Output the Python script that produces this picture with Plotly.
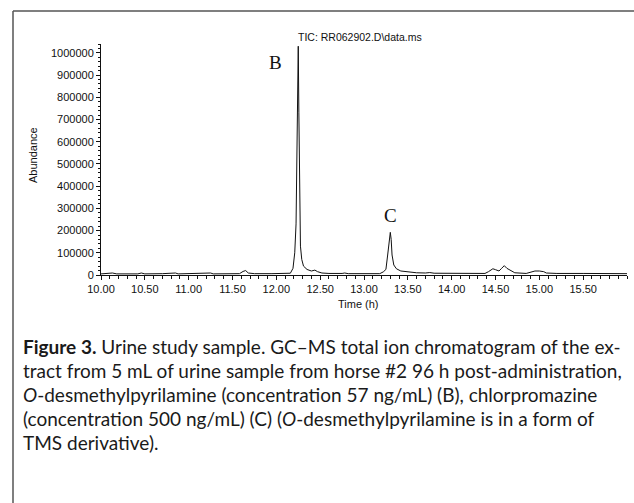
import plotly.graph_objects as go

# ---- data ----
time_h = [10.00, 10.08, 10.13, 10.18, 10.30, 10.42, 10.46, 10.50, 10.70, 10.82, 10.85, 10.88,
          11.00, 11.10, 11.22, 11.25, 11.28, 11.45, 11.58, 11.62, 11.65, 11.68, 11.75, 11.95,
          12.10, 12.16, 12.19, 12.21, 12.225, 12.235, 12.243, 12.25, 12.257, 12.265, 12.275,
          12.29, 12.31, 12.35, 12.40, 12.44, 12.47, 12.52, 12.60, 12.75, 12.78, 12.82,
          13.00, 13.18, 13.22, 13.25, 13.27, 13.29, 13.30, 13.31, 13.32, 13.34, 13.37, 13.42,
          13.50, 13.60, 13.70, 13.75, 13.80, 14.00, 14.20, 14.38, 14.42, 14.47, 14.50, 14.54,
          14.57, 14.60, 14.63, 14.67, 14.72, 14.85, 14.90, 14.95, 15.00, 15.05, 15.08, 15.20,
          15.50, 15.80, 16.00]
abundance = [5000, 6000, 9000, 5000, 6000, 5000, 9000, 5000, 6000, 6000, 9000, 5000,
             6000, 5000, 6000, 9000, 5000, 6000, 6000, 16000, 20000, 9000, 6000, 6000,
             6000, 8000, 30000, 100000, 230000, 500000, 730000, 1030000, 730000, 260000, 130000,
             70000, 40000, 25000, 18000, 22000, 15000, 9000, 7000, 7000, 9000, 6000,
             6000, 6000, 14000, 25000, 90000, 170000, 192000, 160000, 90000, 45000, 28000, 18000,
             13000, 10000, 9000, 11000, 8000, 7000, 7000, 7000, 15000, 28000, 24000, 18000,
             30000, 42000, 30000, 22000, 10000, 7000, 12000, 18000, 18000, 15000, 9000, 7000,
             7000, 6000, 6000]

x_tickvals = [10.0, 10.5, 11.0, 11.5, 12.0, 12.5, 13.0, 13.5, 14.0, 14.5, 15.0, 15.5]
x_ticktext = ["10.00", "10.50", "11.00", "11.50", "12.00", "12.50", "13.00", "13.50",
              "14.00", "14.50", "15.00", "15.50"]
y_tickvals = [0, 100000, 200000, 300000, 400000, 500000, 600000, 700000, 800000, 900000, 1000000]
y_ticktext = [str(v) for v in y_tickvals]

peak_labels = ["B", "C"]
peak_times = [11.99, 13.30]
peak_label_y = [955000, 268000]

caption_lines = [
    "<b>Figure 3.</b> Urine study sample. GC\u2013MS total ion chromatogram of the ex-",
    "tract from 5 mL of urine sample from horse #2 96 h post-administration,",
    "<i>O</i>-desmethylpyrilamine (concentration 57 ng/mL) (B), chlorpromazine",
    "(concentration 500 ng/mL) (C) (<i>O</i>-desmethylpyrilamine is in a form of",
    "TMS derivative).",
]

# ---- layout geometry (pixels) ----
W, H = 634, 503
L, R, T, B = 101, 7, 44, 228
PW, PH = W - L - R, H - T - B


def px(xp):
    return (xp - L) / PW


def py(yp):
    return (H - B - yp) / PH


fig = go.Figure()
fig.add_trace(go.Scatter(x=time_h, y=abundance, mode="lines",
                         line=dict(color="#111111", width=1), hoverinfo="skip"))

tick_font = dict(family="Liberation Sans, Arial, sans-serif", size=11, color="#111111")

fig.update_layout(
    width=W, height=H,
    margin=dict(l=L, r=R, t=T, b=B),
    paper_bgcolor="white", plot_bgcolor="white",
    showlegend=False,
    xaxis=dict(range=[10.0, 16.0], tickvals=x_tickvals, ticktext=x_ticktext,
               showgrid=False, zeroline=False, showline=True, linecolor="#111111",
               linewidth=1, ticks="outside", ticklen=4, tickcolor="#111111",
               tickfont=tick_font,
               minor=dict(dtick=0.1, tick0=10.0, ticks="outside", ticklen=3,
                          tickcolor="#111111", showgrid=False)),
    yaxis=dict(range=[0, 1040000], tickvals=y_tickvals, ticktext=y_ticktext,
               showgrid=False, zeroline=False, showline=True, linecolor="#111111",
               linewidth=1, ticks="outside", ticklen=4, tickcolor="#111111",
               tickfont=tick_font,
               minor=dict(dtick=20000, tick0=0, ticks="outside", ticklen=2,
                          tickcolor="#111111", showgrid=False)),
)

annotations = []
for lab, t, yv in zip(peak_labels, peak_times, peak_label_y):
    annotations.append(dict(x=t, y=yv, xref="x", yref="y", text=lab, showarrow=False,
                            font=dict(family="Liberation Serif, Times New Roman, serif",
                                      size=19, color="#111111")))

annotations.append(dict(x=px(296), y=py(37), xref="paper", yref="paper", xanchor="left",
                        yanchor="middle", text="TIC: RR062902.D\\data.ms", showarrow=False,
                        font=dict(family="Liberation Sans, Arial, sans-serif", size=10.5,
                                  color="#111111")))
annotations.append(dict(x=px(33), y=py(155), xref="paper", yref="paper", textangle=-90,
                        xanchor="center", yanchor="middle", text="Abundance", showarrow=False,
                        font=tick_font))
annotations.append(dict(x=px(358), y=py(304), xref="paper", yref="paper",
                        xanchor="center", yanchor="middle", text="Time (h)", showarrow=False,
                        font=tick_font))

cap_y0 = 346
cap_step = 24
for i, line in enumerate(caption_lines):
    annotations.append(dict(x=px(21), y=py(cap_y0 + i * cap_step), xref="paper", yref="paper",
                            xanchor="left", yanchor="middle", text=line, showarrow=False,
                            font=dict(family="Lato, Noto Sans, sans-serif", size=19,
                                      color="#1a1a1a")))
fig.update_layout(annotations=annotations)

# frame lines (top and left) as in the reference
fig.add_shape(type="line", xref="paper", yref="paper", x0=px(13), x1=px(634), y0=py(11),
              y1=py(11), line=dict(color="#555555", width=1.5))
fig.add_shape(type="line", xref="paper", yref="paper", x0=px(13), x1=px(13), y0=py(11),
              y1=py(503), line=dict(color="#555555", width=1.5))

fig.write_html("out.html", config={"displayModeBar": False},
               post_script="document.body.style.margin='0';document.body.style.overflow='hidden';")
